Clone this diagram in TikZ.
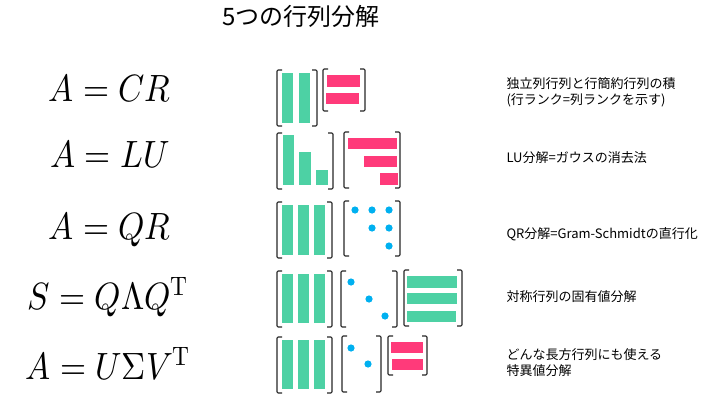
\documentclass[tikz,border=0pt]{standalone}
\usepackage{fontspec}
\usepackage{unicode-math}
\setmainfont{Noto Sans CJK JP}
\setmathfont{Latin Modern Math}
\definecolor{colgreen}{RGB}{77,209,164}
\definecolor{colpink}{RGB}{255,58,122}
\definecolor{colblue}{RGB}{0,176,240}
\tikzset{
	brk/.style={line width=1.1pt,black!85,rounded corners=1.2pt},
	gbar/.style={fill=colgreen},
	pbar/.style={fill=colpink},
	dotb/.style={fill=colblue},
	formula/.style={font=\fontsize{38}{40}\selectfont,anchor=base},
	desc/.style={font=\fontsize{13}{16}\selectfont,anchor=west,align=left},
}
% matrix brackets: left x, top y, right x, bottom y
\newcommand{\mbrk}[4]{%
	\draw[brk] (#1+5,#2) -- (#1,#2) -- (#1,#4) -- (#1+5,#4);
	\draw[brk] (#3-5,#2) -- (#3,#2) -- (#3,#4) -- (#3-5,#4);}
\newcommand{\eqtext}[1]{\scalebox{0.88}[1]{$#1$}}
\begin{document}
\begin{tikzpicture}[x=1pt,y=-1pt]
	\useasboundingbox (0,0) rectangle (712,404);
	\node[font=\fontsize{24}{28}\selectfont] (title) at (301,16) {5つの行列分解};
	% formulas
	\node[formula] (eqCR) at (110,101) {\eqtext{A=CR}};
	\node[formula] (eqLU) at (110,167) {\eqtext{A=LU}};
	\node[formula] (eqQR) at (110,239) {\eqtext{A=QR}};
	\node[formula] (eqEig) at (108,309) {\eqtext{S=Q\Lambda Q^{\symup{T}}}};
	\node[formula] (eqSVD) at (108,379) {\eqtext{A=U\Sigma V^{\symup{T}}}};
	% A = CR
	\mbrk{277}{70}{317}{126}
	\fill[gbar] (282,73) rectangle (293,123);
	\fill[gbar] (299,73) rectangle (310,123);
	\mbrk{323}{69}{365}{111}
	\fill[pbar] (327,75) rectangle (360,87);
	\fill[pbar] (326,93) rectangle (359,104);
	% A = LU
	\mbrk{277}{133}{333}{189}
	\fill[gbar] (283,135) rectangle (294,185);
	\fill[gbar] (299,152) rectangle (311,185);
	\fill[gbar] (316,170) rectangle (328,185);
	\mbrk{344}{132}{400}{188}
	\fill[pbar] (348,138) rectangle (397,149);
	\fill[pbar] (364,156) rectangle (397,167);
	\fill[pbar] (380,173) rectangle (398,185);
	% A = QR
	\mbrk{277}{202}{332}{258}
	\foreach \bx in {282,298,314}
		\fill[gbar] (\bx,205) rectangle (\bx+11,255);
	\mbrk{344}{201}{400}{256}
	\foreach \dx/\dy in {355/210,372/210,389/210,372/228,389/228,389/246}
		\fill[dotb] (\dx,\dy) circle[radius=3.6pt];
	% S = Q Lambda Q^T
	\mbrk{277}{271}{332}{327}
	\foreach \bx in {282,298,314}
		\fill[gbar] (\bx,274) rectangle (\bx+11,323);
	\mbrk{341}{271}{397}{327}
	\foreach \dx/\dy in {351/282,369/299,385/316}
		\fill[dotb] (\dx,\dy) circle[radius=3.6pt];
	\mbrk{404}{270}{462}{326}
	\fill[gbar] (407,276) rectangle (457,288);
	\fill[gbar] (407,293) rectangle (457,304);
	\fill[gbar] (407,311) rectangle (456,322);
	% A = U Sigma V^T
	\mbrk{277}{337}{332}{393}
	\foreach \bx in {282,298,314}
		\fill[gbar] (\bx,340) rectangle (\bx+11,389);
	\mbrk{342}{336}{381}{392}
	\foreach \dx/\dy in {351/348,368/364}
		\fill[dotb] (\dx,\dy) circle[radius=3.6pt];
	\mbrk{388}{336}{427}{375}
	\fill[pbar] (391,342) rectangle (423,353);
	\fill[pbar] (392,359) rectangle (423,370);
	% descriptions
	\node[desc] (descCR) at (503,92) {独立列行列と行簡約行列の積\\(行ランク=列ランクを示す)};
	\node[desc] (descLU) at (503,158) {LU分解=ガウスの消去法};
	\node[desc] (descQR) at (503,234) {QR分解=Gram-Schmidtの直行化};
	\node[desc] (descEig) at (503,297) {対称行列の固有値分解};
	\node[desc] (descSVD) at (503,363) {どんな長方行列にも使える\\特異値分解};
\end{tikzpicture}
\end{document}
